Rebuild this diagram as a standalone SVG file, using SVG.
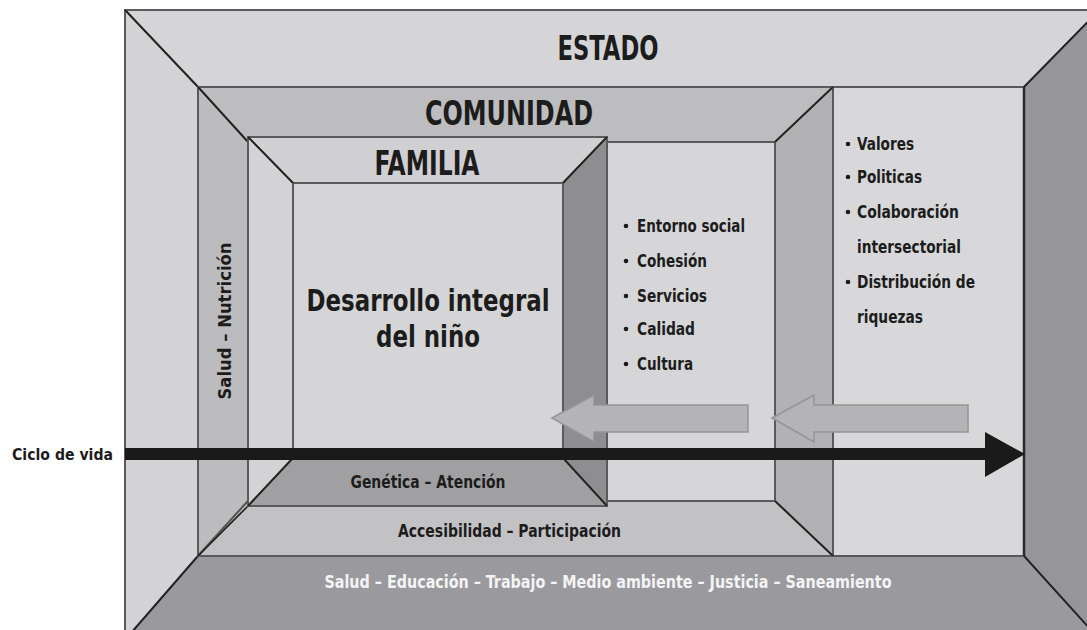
<svg xmlns="http://www.w3.org/2000/svg" width="1087" height="630" viewBox="0 0 1087 630">
<style>
.e{stroke:#5a5a5c;stroke-width:2;stroke-linejoin:round}
.d{stroke:#1e1e1e;stroke-width:1.6;fill:none}
text{font-family:'DejaVu Sans Condensed','Liberation Sans Narrow','Liberation Sans',sans-serif;font-weight:bold;fill:#1c1c1c}
.t{font-size:17px}
.h{font-size:33px}
.w{fill:#f4f4f4}
</style>
<rect width="1087" height="630" fill="#ffffff"/>
<g id="estado">
<polygon class="e" points="125,10 1100,10 1024,87 198,87" fill="#d5d5d7"/>
<polygon class="e" points="125,10 198,87 198,556 125,640" fill="#d3d3d5"/>
<polygon class="e" points="1100,10 1024,87 1024,556 1100,640" fill="#96969a"/>
<polygon class="e" points="125,640 198,556 1024,556 1100,640" fill="#9a9a9e"/>
<rect class="e" x="198" y="87" width="826" height="469" fill="#d8d8da"/>
<line class="d" x1="125" y1="10" x2="198" y2="87"/>
<line class="d" x1="1024" y1="87" x2="1100" y2="9"/>
<line class="d" x1="1024" y1="556" x2="1100" y2="640"/>
<line class="d" x1="198" y1="556" x2="125" y2="640"/>
<line x1="1024" y1="87" x2="1024" y2="556" stroke="#2a2a2a" stroke-width="2.5"/>
<text class="h" x="608" y="60" text-anchor="middle" textLength="101" lengthAdjust="spacingAndGlyphs">ESTADO</text>
<text class="t" x="857" y="150" textLength="57" lengthAdjust="spacingAndGlyphs">Valores</text>
<text class="t" x="857" y="183" textLength="65" lengthAdjust="spacingAndGlyphs">Politicas</text>
<text class="t" x="857" y="218" textLength="102" lengthAdjust="spacingAndGlyphs">Colaboración</text>
<text class="t" x="857" y="253" textLength="104" lengthAdjust="spacingAndGlyphs">intersectorial</text>
<text class="t" x="857" y="288" textLength="118" lengthAdjust="spacingAndGlyphs">Distribución de</text>
<text class="t" x="857" y="323" textLength="66" lengthAdjust="spacingAndGlyphs">riquezas</text>
<circle cx="848" cy="144" r="2.3" fill="#1c1c1c"/>
<circle cx="848" cy="177" r="2.3" fill="#1c1c1c"/>
<circle cx="848" cy="212" r="2.3" fill="#1c1c1c"/>
<circle cx="848" cy="282" r="2.3" fill="#1c1c1c"/>
<text class="t w" x="608" y="588" text-anchor="middle" textLength="567" lengthAdjust="spacingAndGlyphs">Salud – Educación – Trabajo – Medio ambiente – Justicia – Saneamiento</text>
</g>
<g id="comunidad">
<polygon class="e" points="198,87 833,87 775,142 248,142" fill="#bdbdbf"/>
<polygon class="e" points="198,87 248,142 248,501 198,556" fill="#bcbcbe"/>
<polygon class="e" points="833,87 775,142 775,501 833,556" fill="#b2b2b4"/>
<polygon class="e" points="198,556 248,501 775,501 833,556" fill="#c2c2c4"/>
<rect class="e" x="248" y="142" width="527" height="359" fill="#d6d6d8"/>
<line class="d" x1="198" y1="87" x2="248" y2="142"/>
<line class="d" x1="833" y1="87" x2="775" y2="142"/>
<line class="d" x1="775" y1="501" x2="833" y2="556"/>
<line class="d" x1="248" y1="506" x2="198" y2="556"/>
<text class="h" x="509" y="125" text-anchor="middle" textLength="168" lengthAdjust="spacingAndGlyphs">COMUNIDAD</text>
<text class="t" transform="translate(231,321) rotate(-90)" text-anchor="middle" textLength="157" lengthAdjust="spacingAndGlyphs">Salud – Nutrición</text>
<text class="t" x="637" y="232" textLength="108" lengthAdjust="spacingAndGlyphs">Entorno social</text>
<text class="t" x="637" y="267" textLength="70" lengthAdjust="spacingAndGlyphs">Cohesión</text>
<text class="t" x="637" y="302" textLength="70" lengthAdjust="spacingAndGlyphs">Servicios</text>
<text class="t" x="637" y="335" textLength="58" lengthAdjust="spacingAndGlyphs">Calidad</text>
<text class="t" x="637" y="370" textLength="56" lengthAdjust="spacingAndGlyphs">Cultura</text>
<circle cx="626" cy="226" r="2.3" fill="#1c1c1c"/>
<circle cx="626" cy="261" r="2.3" fill="#1c1c1c"/>
<circle cx="626" cy="296" r="2.3" fill="#1c1c1c"/>
<circle cx="626" cy="329" r="2.3" fill="#1c1c1c"/>
<circle cx="626" cy="364" r="2.3" fill="#1c1c1c"/>
<text class="t" x="398" y="537" textLength="223" lengthAdjust="spacingAndGlyphs">Accesibilidad – Participación</text>
</g>
<g id="familia">
<polygon class="e" points="248,137 607,137 563,183 293,183" fill="#d0d0d2"/>
<polygon class="e" points="248,137 293,183 293,458 248,506" fill="#d3d3d5"/>
<polygon class="e" points="607,137 563,183 563,458 607,506" fill="#8e8e90"/>
<polygon class="e" points="248,506 293,458 563,458 607,506" fill="#a0a0a2"/>
<rect class="e" x="293" y="183" width="270" height="275" fill="#d5d5d7"/>
<line class="d" x1="248" y1="137" x2="293" y2="183"/>
<line class="d" x1="607" y1="137" x2="563" y2="183"/>
<line class="d" x1="563" y1="458" x2="607" y2="506"/>
<line class="d" x1="293" y1="458" x2="248" y2="506"/>
<text class="h" x="427" y="175" text-anchor="middle" textLength="105" lengthAdjust="spacingAndGlyphs">FAMILIA</text>
<text x="428" y="311" text-anchor="middle" font-size="31" textLength="243" lengthAdjust="spacingAndGlyphs">Desarrollo integral</text>
<text x="428" y="347" text-anchor="middle" font-size="31" textLength="104" lengthAdjust="spacingAndGlyphs">del niño</text>
<text class="t" x="428" y="488" text-anchor="middle" textLength="155" lengthAdjust="spacingAndGlyphs">Genética – Atención</text>
</g>
<g id="connectors">
<polygon points="552,418 594,395 594,405 748,405 748,432 594,432 594,442" fill="#b4b4b6" stroke="#959597" stroke-width="1.5"/>
<polygon points="772,418 814,395 814,405 968,405 968,432 814,432 814,442" fill="#b4b4b6" stroke="#959597" stroke-width="1.5"/>
<rect x="125" y="448" width="862" height="12" fill="#1a1a1a"/>
<polygon points="985,432 1025,454 985,477" fill="#1a1a1a"/>
</g>
<text x="12" y="460" font-size="15" textLength="101" lengthAdjust="spacingAndGlyphs">Ciclo de vida</text>
</svg>
